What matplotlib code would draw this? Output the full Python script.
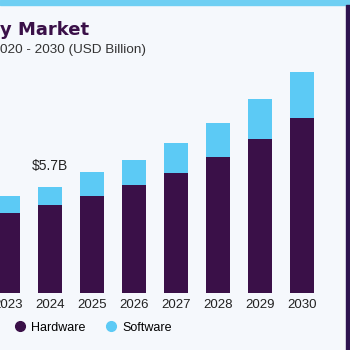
import matplotlib
matplotlib.use('Agg')
import matplotlib.pyplot as plt
from matplotlib.patches import Rectangle
from matplotlib.lines import Line2D

# values (USD billion)
years = [2023, 2024, 2025, 2026, 2027, 2028, 2029, 2030]
hardware = [4.3, 4.73, 5.2, 5.8, 6.45, 7.3, 8.3, 9.4]
software = [0.9, 0.97, 1.3, 1.35, 1.62, 1.84, 2.1, 2.5]
label_year = 2024
label_text = '$5.7B'

HW_COL = '#3a1048'
SW_COL = '#5ccaf5'
BG = '#f5f8fc'

plt.rcParams['font.family'] = ['Liberation Sans', 'DejaVu Sans']

fig = plt.figure(figsize=(3.5, 3.5), dpi=100)
fig.patch.set_facecolor(BG)

# top stripe and dark side panel
fig.patches.append(Rectangle((0, 0.985), 1, 0.015, transform=fig.transFigure,
                             color='#6fcff3', zorder=0))
fig.patches.append(Rectangle((0.988, 0), 0.012, 0.985, transform=fig.transFigure,
                             color='#2e1450', zorder=0))

ax = fig.add_axes([0, 0.163, 0.988, 0.666])
ax.set_facecolor(BG)

ax.bar(years, hardware, width=0.57, color=HW_COL, zorder=2)
ax.bar(years, software, width=0.57, bottom=hardware, color=SW_COL, zorder=2)

i = years.index(label_year)
ax.text(label_year, hardware[i] + software[i] + 0.75, label_text,
        ha='center', va='bottom', fontsize=10, color='#222222')

ax.set_xlim(years[0] - 0.19, years[0] + 8.05)
ax.set_ylim(0, 12.53)
ax.set_xticks(years)
ax.set_xticklabels([str(y) for y in years], fontsize=9.5, color='#222222')
ax.tick_params(axis='x', length=0, pad=4)
ax.set_yticks([])
for s in ax.spines.values():
    s.set_visible(False)

fig.text(0.0, 0.9, 'y Market', fontsize=13, fontweight='bold',
         family='DejaVu Sans', color='#3a1048', ha='left', va='baseline')
fig.text(0.0, 0.848, '020 - 2030 (USD Billion)', fontsize=9.7,
         color='#333333', ha='left', va='baseline')

handles = [Line2D([], [], marker='o', linestyle='', markersize=7, color=HW_COL),
           Line2D([], [], marker='o', linestyle='', markersize=7, color=SW_COL)]
fig.legend(handles, ['Hardware', 'Software'], loc='center',
           bbox_to_anchor=(0.265, 0.064), ncol=2, frameon=False, fontsize=9,
           handletextpad=0.4, columnspacing=1.5, handlelength=1.0)

fig.savefig('out.png', dpi=100, facecolor=BG)
